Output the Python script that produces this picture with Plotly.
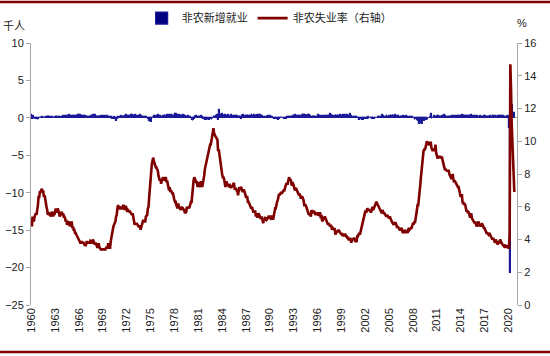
import pandas as pd
import plotly.graph_objects as go

# US unemployment rate, monthly (%), Jan 1960 - Oct 2020
unemp = [
    5.2, 4.8, 5.4, 5.2, 5.1, 5.4, 5.5, 5.6, 5.5, 6.1, 6.1, 6.6,
    6.6, 6.9, 6.9, 7.0, 7.1, 6.9, 7.0, 6.6, 6.7, 6.5, 6.1, 6.0,
    5.8, 5.5, 5.6, 5.6, 5.5, 5.5, 5.4, 5.7, 5.6, 5.4, 5.7, 5.5,
    5.7, 5.9, 5.7, 5.7, 5.9, 5.6, 5.6, 5.4, 5.5, 5.5, 5.7, 5.5,
    5.6, 5.4, 5.4, 5.3, 5.1, 5.2, 4.9, 5.0, 5.1, 5.1, 4.8, 5.0,
    4.9, 5.1, 4.7, 4.8, 4.6, 4.6, 4.4, 4.4, 4.3, 4.2, 4.1, 4.0,
    4.0, 3.8, 3.8, 3.8, 3.9, 3.8, 3.8, 3.8, 3.7, 3.7, 3.6, 3.8,
    3.9, 3.8, 3.8, 3.8, 3.8, 3.9, 3.8, 3.8, 3.8, 4.0, 3.9, 3.8,
    3.7, 3.8, 3.7, 3.5, 3.5, 3.7, 3.7, 3.5, 3.4, 3.4, 3.4, 3.4,
    3.4, 3.4, 3.4, 3.4, 3.4, 3.5, 3.5, 3.5, 3.7, 3.7, 3.5, 3.5,
    3.9, 4.2, 4.4, 4.6, 4.8, 4.9, 5.0, 5.1, 5.4, 5.5, 5.9, 6.1,
    5.9, 5.9, 6.0, 5.9, 5.9, 5.9, 6.0, 6.1, 6.0, 5.8, 6.0, 6.0,
    5.8, 5.7, 5.8, 5.7, 5.7, 5.7, 5.6, 5.6, 5.5, 5.6, 5.3, 5.2,
    4.9, 5.0, 4.9, 5.0, 4.9, 4.9, 4.8, 4.8, 4.8, 4.6, 4.8, 4.9,
    5.1, 5.2, 5.1, 5.1, 5.1, 5.4, 5.5, 5.5, 5.9, 6.0, 6.6, 7.2,
    8.1, 8.1, 8.6, 8.8, 9.0, 8.8, 8.6, 8.4, 8.4, 8.4, 8.3, 8.2,
    7.9, 7.7, 7.6, 7.7, 7.4, 7.6, 7.8, 7.8, 7.6, 7.7, 7.8, 7.8,
    7.5, 7.6, 7.4, 7.2, 7.0, 7.2, 6.9, 7.0, 6.8, 6.8, 6.8, 6.4,
    6.4, 6.3, 6.3, 6.1, 6.0, 5.9, 6.2, 5.9, 6.0, 5.8, 5.9, 6.0,
    5.9, 5.9, 5.8, 5.8, 5.6, 5.7, 5.7, 6.0, 5.9, 6.0, 5.9, 6.0,
    6.3, 6.3, 6.3, 6.9, 7.5, 7.6, 7.8, 7.7, 7.5, 7.5, 7.5, 7.2,
    7.5, 7.4, 7.4, 7.2, 7.5, 7.5, 7.2, 7.4, 7.6, 7.9, 8.3, 8.5,
    8.6, 8.9, 9.0, 9.3, 9.4, 9.6, 9.8, 9.8, 10.1, 10.4, 10.8, 10.8,
    10.4, 10.4, 10.3, 10.2, 10.1, 10.1, 9.4, 9.5, 9.2, 8.8, 8.5, 8.3,
    8.0, 7.8, 7.8, 7.7, 7.4, 7.2, 7.5, 7.5, 7.3, 7.4, 7.2, 7.3,
    7.3, 7.2, 7.2, 7.3, 7.2, 7.4, 7.4, 7.1, 7.1, 7.1, 7.0, 7.0,
    6.7, 7.2, 7.2, 7.1, 7.2, 7.2, 7.0, 6.9, 7.0, 7.0, 6.9, 6.6,
    6.6, 6.6, 6.6, 6.3, 6.3, 6.2, 6.1, 6.0, 5.9, 6.0, 5.8, 5.7,
    5.7, 5.7, 5.7, 5.4, 5.6, 5.4, 5.4, 5.6, 5.4, 5.4, 5.3, 5.3,
    5.4, 5.2, 5.0, 5.2, 5.2, 5.3, 5.2, 5.2, 5.3, 5.3, 5.4, 5.4,
    5.4, 5.3, 5.2, 5.4, 5.4, 5.2, 5.5, 5.7, 5.9, 5.9, 6.2, 6.3,
    6.4, 6.6, 6.8, 6.7, 6.9, 6.9, 6.8, 6.9, 6.9, 7.0, 7.0, 7.3,
    7.3, 7.4, 7.4, 7.4, 7.6, 7.8, 7.7, 7.6, 7.6, 7.3, 7.4, 7.4,
    7.3, 7.1, 7.0, 7.1, 7.1, 7.0, 6.9, 6.8, 6.7, 6.8, 6.6, 6.5,
    6.6, 6.6, 6.5, 6.4, 6.1, 6.1, 6.1, 6.0, 5.9, 5.8, 5.6, 5.5,
    5.6, 5.4, 5.4, 5.8, 5.6, 5.6, 5.7, 5.7, 5.6, 5.5, 5.6, 5.6,
    5.6, 5.5, 5.5, 5.6, 5.6, 5.3, 5.5, 5.1, 5.2, 5.2, 5.4, 5.4,
    5.3, 5.2, 5.2, 5.1, 4.9, 5.0, 4.9, 4.8, 4.9, 4.7, 4.6, 4.7,
    4.6, 4.6, 4.7, 4.3, 4.4, 4.5, 4.5, 4.5, 4.6, 4.5, 4.4, 4.4,
    4.3, 4.4, 4.2, 4.3, 4.2, 4.3, 4.3, 4.2, 4.2, 4.1, 4.1, 4.0,
    4.0, 4.1, 4.0, 3.8, 4.0, 4.0, 4.0, 4.1, 3.9, 3.9, 3.9, 3.9,
    4.2, 4.2, 4.3, 4.4, 4.3, 4.5, 4.6, 4.9, 5.0, 5.3, 5.5, 5.7,
    5.7, 5.7, 5.7, 5.9, 5.8, 5.8, 5.8, 5.7, 5.7, 5.7, 5.9, 6.0,
    5.8, 5.9, 5.9, 6.0, 6.1, 6.3, 6.2, 6.1, 6.1, 6.0, 5.8, 5.7,
    5.7, 5.6, 5.8, 5.6, 5.6, 5.6, 5.5, 5.4, 5.4, 5.5, 5.4, 5.4,
    5.3, 5.4, 5.2, 5.2, 5.1, 5.0, 5.0, 4.9, 5.0, 5.0, 5.0, 4.9,
    4.7, 4.8, 4.7, 4.7, 4.6, 4.6, 4.7, 4.7, 4.5, 4.4, 4.5, 4.4,
    4.6, 4.5, 4.4, 4.5, 4.4, 4.6, 4.7, 4.6, 4.7, 4.7, 4.7, 5.0,
    5.0, 4.9, 5.1, 5.0, 5.4, 5.6, 5.8, 6.1, 6.1, 6.5, 6.8, 7.3,
    7.8, 8.3, 8.7, 9.0, 9.4, 9.5, 9.5, 9.6, 9.8, 10.0, 9.9, 9.9,
    9.8, 9.8, 9.9, 9.9, 9.6, 9.4, 9.4, 9.5, 9.5, 9.4, 9.8, 9.3,
    9.1, 9.0, 9.0, 9.1, 9.0, 9.1, 9.0, 9.0, 9.0, 8.8, 8.6, 8.5,
    8.3, 8.3, 8.2, 8.2, 8.2, 8.2, 8.2, 8.0, 7.8, 7.8, 7.7, 7.9,
    8.0, 7.7, 7.5, 7.6, 7.5, 7.5, 7.3, 7.2, 7.2, 7.2, 6.9, 6.7,
    6.6, 6.7, 6.7, 6.2, 6.3, 6.1, 6.2, 6.1, 5.9, 5.7, 5.8, 5.6,
    5.7, 5.5, 5.4, 5.4, 5.6, 5.3, 5.2, 5.1, 5.0, 5.0, 5.1, 5.0,
    4.8, 4.9, 5.0, 5.1, 4.8, 4.9, 4.8, 4.9, 5.0, 4.9, 4.7, 4.7,
    4.7, 4.6, 4.4, 4.4, 4.4, 4.3, 4.3, 4.4, 4.3, 4.2, 4.2, 4.1,
    4.0, 4.1, 4.0, 4.0, 3.8, 4.0, 3.8, 3.8, 3.7, 3.8, 3.8, 3.9,
    4.0, 3.8, 3.8, 3.7, 3.6, 3.6, 3.7, 3.6, 3.5, 3.6, 3.6, 3.6,
    3.5, 3.5, 4.4, 14.7, 13.3, 11.1, 10.2, 8.4, 7.9, 6.9,
]

# Nonfarm payroll monthly change (left axis units), Jan 1960 - Oct 2020
payroll = [
    0.35, 0.09, -0.20, 0.30, -0.20, -0.08, -0.12, 0.02, -0.10, -0.08, -0.25, -0.17,
    -0.05, -0.08, 0.00, 0.05, 0.12, 0.15, 0.10, 0.17, 0.00, 0.14, 0.15, 0.13,
    0.00, 0.24, 0.10, 0.28, 0.06, 0.03, 0.09, 0.10, 0.08, 0.04, 0.02, -0.02,
    0.10, 0.12, 0.12, 0.26, 0.03, 0.12, 0.16, 0.10, 0.18, 0.17, -0.02, 0.16,
    0.10, 0.23, 0.10, 0.04, 0.22, 0.12, 0.20, 0.20, 0.23, 0.00, 0.37, 0.18,
    0.20, 0.25, 0.22, 0.26, 0.23, 0.22, 0.30, 0.25, 0.22, 0.28, 0.26, 0.36,
    0.25, 0.32, 0.42, 0.24, 0.30, 0.30, 0.21, 0.25, 0.19, 0.24, 0.22, 0.16,
    0.20, 0.07, 0.10, 0.03, 0.15, 0.14, 0.25, 0.20, 0.10, 0.16, 0.42, 0.24,
    -0.05, 0.38, 0.14, 0.27, 0.11, 0.22, 0.23, 0.17, 0.20, 0.26, 0.27, 0.25,
    0.28, 0.24, 0.24, 0.18, 0.28, 0.27, 0.17, 0.28, -0.02, 0.16, 0.06, 0.09,
    0.08, 0.12, 0.13, -0.15, -0.16, -0.10, 0.07, -0.14, 0.02, -0.41, -0.09, 0.15,
    0.06, -0.06, 0.08, 0.16, 0.22, -0.04, 0.12, 0.08, 0.21, 0.11, 0.22, 0.26,
    0.32, 0.25, 0.30, 0.23, 0.29, 0.20, 0.07, 0.38, 0.20, 0.37, 0.26, 0.27,
    0.20, 0.43, 0.33, 0.22, 0.23, 0.24, 0.17, 0.27, 0.14, 0.34, 0.28, 0.14,
    0.10, 0.12, -0.03, 0.16, 0.11, 0.05, 0.05, -0.04, -0.03, -0.09, -0.38, -0.60,
    -0.43, -0.57, -0.37, -0.07, 0.15, -0.07, 0.28, 0.30, 0.12, 0.29, 0.16, 0.31,
    0.44, 0.25, 0.25, 0.22, 0.06, 0.09, 0.17, 0.14, 0.26, 0.03, 0.32, 0.29,
    0.18, 0.26, 0.38, 0.29, 0.36, 0.37, 0.28, 0.24, 0.44, 0.28, 0.37, 0.30,
    0.19, 0.32, 0.47, 0.51, 0.38, 0.41, 0.24, 0.25, 0.34, 0.31, 0.44, 0.27,
    0.25, 0.32, 0.34, -0.05, 0.40, 0.24, 0.17, 0.12, 0.09, 0.22, 0.05, 0.17,
    0.13, 0.09, 0.04, -0.22, -0.44, -0.31, -0.21, 0.26, 0.11, 0.29, 0.25, 0.17,
    0.10, 0.08, 0.10, 0.07, 0.01, 0.20, 0.11, 0.00, -0.09, -0.10, -0.21, -0.28,
    -0.33, -0.04, -0.13, -0.28, -0.05, -0.24, -0.34, -0.16, -0.18, -0.27, -0.12, -0.01,
    0.22, -0.08, 0.17, 0.28, 0.28, 0.38, 0.42, -0.31, 1.11, 0.27, 0.35, 0.36,
    0.45, 0.48, 0.27, 0.36, 0.31, 0.38, 0.31, 0.24, 0.31, 0.29, 0.35, 0.13,
    0.27, 0.13, 0.35, 0.20, 0.27, 0.15, 0.19, 0.19, 0.20, 0.19, 0.21, 0.26,
    0.13, 0.12, 0.07, 0.19, 0.13, -0.09, 0.32, 0.11, 0.35, 0.19, 0.18, 0.21,
    0.17, 0.23, 0.25, 0.34, 0.22, 0.17, 0.35, 0.17, 0.23, 0.49, 0.24, 0.29,
    0.09, 0.44, 0.20, 0.28, 0.21, 0.36, 0.23, 0.12, 0.34, 0.26, 0.34, 0.29,
    0.26, 0.26, 0.20, 0.16, 0.11, 0.11, 0.04, 0.05, 0.26, 0.11, 0.27, 0.09,
    0.24, 0.25, 0.20, 0.07, 0.16, 0.04, -0.03, -0.20, -0.08, -0.16, -0.15, -0.06,
    -0.14, -0.26, -0.22, -0.16, -0.07, 0.08, -0.07, 0.04, 0.02, -0.03, -0.13, -0.02,
    0.04, -0.10, 0.05, 0.17, 0.13, 0.06, 0.05, 0.12, 0.04, 0.17, 0.14, 0.23,
    0.30, 0.25, -0.04, 0.32, 0.27, 0.18, 0.29, 0.19, 0.24, 0.27, 0.30, 0.28,
    0.27, 0.22, 0.45, 0.35, 0.33, 0.31, 0.36, 0.29, 0.35, 0.21, 0.42, 0.29,
    0.32, 0.22, 0.22, 0.16, -0.02, 0.24, 0.13, 0.26, 0.23, 0.14, 0.14, 0.13,
    -0.03, 0.44, 0.28, 0.15, 0.33, 0.30, 0.21, 0.16, 0.22, 0.27, 0.26, 0.17,
    0.23, 0.31, 0.31, 0.29, 0.25, 0.26, 0.28, 0.04, 0.51, 0.33, 0.30, 0.30,
    0.27, 0.19, 0.15, 0.28, 0.40, 0.21, 0.13, 0.33, 0.19, 0.22, 0.29, 0.34,
    0.14, 0.41, 0.10, 0.36, 0.19, 0.26, 0.34, 0.16, 0.22, 0.39, 0.27, 0.29,
    0.25, 0.12, 0.47, 0.29, 0.23, -0.05, 0.17, 0.00, 0.12, 0.00, 0.20, 0.13,
    -0.02, 0.06, -0.03, -0.28, -0.04, -0.13, -0.01, -0.16, -0.24, -0.33, -0.29, -0.17,
    -0.13, -0.15, -0.02, -0.09, -0.01, 0.05, -0.10, -0.01, -0.06, 0.12, 0.01, -0.16,
    0.09, -0.16, -0.21, -0.05, -0.01, 0.00, 0.04, -0.04, 0.11, 0.20, 0.02, 0.12,
    0.16, 0.04, 0.33, 0.25, 0.31, 0.08, 0.04, 0.12, 0.16, 0.35, 0.06, 0.13,
    0.13, 0.24, 0.14, 0.36, 0.17, 0.24, 0.37, 0.19, 0.07, 0.08, 0.34, 0.16,
    0.28, 0.31, 0.28, 0.18, 0.02, 0.08, 0.21, 0.18, 0.16, 0.00, 0.21, 0.17,
    0.24, 0.09, 0.19, 0.08, 0.14, 0.08, -0.03, -0.02, 0.09, 0.08, 0.11, 0.10,
    0.01, -0.08, -0.05, -0.24, -0.19, -0.16, -0.21, -0.27, -0.46, -0.48, -0.80, -0.66,
    -0.78, -0.70, -0.80, -0.69, -0.36, -0.47, -0.27, -0.21, -0.24, -0.20, 0.01, -0.27,
    -0.03, -0.07, 0.16, 0.25, 0.52, -0.13, -0.07, -0.05, -0.05, 0.24, 0.14, 0.10,
    0.03, 0.22, 0.23, 0.31, 0.10, 0.23, 0.07, 0.11, 0.23, 0.20, 0.14, 0.20,
    0.36, 0.26, 0.23, 0.09, 0.10, 0.07, 0.16, 0.15, 0.20, 0.14, 0.13, 0.24,
    0.19, 0.28, 0.14, 0.18, 0.22, 0.18, 0.14, 0.26, 0.19, 0.21, 0.26, 0.05,
    0.19, 0.17, 0.27, 0.33, 0.23, 0.32, 0.24, 0.21, 0.27, 0.22, 0.31, 0.27,
    0.19, 0.27, 0.08, 0.25, 0.33, 0.21, 0.28, 0.15, 0.14, 0.31, 0.25, 0.25,
    0.12, 0.23, 0.20, 0.15, 0.04, 0.29, 0.29, 0.16, 0.25, 0.12, 0.17, 0.16,
    0.26, 0.20, 0.07, 0.18, 0.14, 0.23, 0.17, 0.20, 0.02, 0.26, 0.23, 0.16,
    0.18, 0.32, 0.19, 0.16, 0.26, 0.24, 0.18, 0.24, 0.11, 0.25, 0.18, 0.23,
    0.30, 0.06, 0.19, 0.25, 0.08, 0.19, 0.16, 0.13, 0.18, 0.13, 0.26, 0.15,
    0.21, 0.25, -1.37, -20.68, 2.73, 4.79, 1.76, 1.49, 0.66, 0.64,
]

tick_years = list(range(1960, 2021, 3))
tick_labels = [str(y) for y in tick_years]
minor_tick_years = list(range(1960, 2021, 6))

months = pd.date_range("1960-01-01", periods=len(unemp), freq="MS")

BLUE = "#000080"
RED = "#800000"
AXIS = "#A6A6A6"
FONT = "Liberation Sans, Arial, sans-serif"
CJK = "Noto Sans CJK SC"
XRANGE = ["1959-12-20", "2021-02-01"]

fig = go.Figure()
fig.add_trace(go.Bar(
    x=months, y=payroll, name="非农新增就业",
    marker=dict(color=BLUE, line=dict(color="#1a1a99", width=1.2)),
    yaxis="y",
))
fig.add_trace(go.Scatter(
    x=months, y=unemp, name="非农失业率（右轴）", mode="lines",
    line=dict(color=RED, width=2.6),
    yaxis="y2",
))

fig.update_layout(
    width=550, height=356,
    margin=dict(l=31, r=33, t=43, b=51, autoexpand=False),
    paper_bgcolor="white", plot_bgcolor="white",
    bargap=0,
    showlegend=True,
    hovermode=False,
    legend=dict(
        orientation="h", x=0.49, xanchor="center", y=1.095, yanchor="middle",
        font=dict(family=CJK, size=11, color="#222"),
        itemwidth=30, tracegroupgap=0, bgcolor="rgba(0,0,0,0)",
    ),
    xaxis=dict(
        type="date",
        range=XRANGE,
        tickvals=[f"{y}-01-01" for y in tick_years],
        ticktext=tick_labels,
        tickangle=-90,
        showgrid=False, showline=False, zeroline=False,
        ticks="", tickfont=dict(family=FONT, size=11, color="#222"),
        automargin=False,
    ),
    xaxis2=dict(
        type="date", overlaying="x", anchor="free", position=25 / 35,
        range=XRANGE,
        tickvals=[f"{y}-01-01" for y in minor_tick_years],
        showticklabels=False, ticks="outside", ticklen=3, tickcolor=AXIS,
        showgrid=False, showline=False, zeroline=False, side="bottom",
        automargin=False,
    ),
    yaxis=dict(
        range=[-25, 10], dtick=5, tick0=0,
        showgrid=False, zeroline=True, zerolinecolor=AXIS, zerolinewidth=1,
        showline=True, linecolor=AXIS, linewidth=1,
        ticks="outside", ticklen=4, tickcolor=AXIS,
        tickfont=dict(family=FONT, size=11, color="#222"),
        automargin=False,
    ),
    yaxis2=dict(
        range=[0, 16], dtick=2, overlaying="y", side="right",
        showgrid=False, zeroline=False,
        showline=True, linecolor=AXIS, linewidth=1,
        ticks="outside", ticklen=4, tickcolor=AXIS,
        tickfont=dict(family=FONT, size=11, color="#222"),
        automargin=False,
    ),
    annotations=[
        dict(text="千人", xref="paper", yref="paper", x=-0.035, y=1.07,
             xanchor="center", yanchor="middle", showarrow=False,
             font=dict(family=CJK, size=11, color="#222")),
        dict(text="%", xref="paper", yref="paper", x=1.01, y=1.075,
             xanchor="center", yanchor="middle", showarrow=False,
             font=dict(family=FONT, size=11, color="#222")),
    ],
    shapes=[
        dict(type="line", xref="paper", yref="paper", x0=-0.07, x1=1.07,
             y0=1.1565, y1=1.1565, line=dict(color=RED, width=2.5)),
        dict(type="line", xref="paper", yref="paper", x0=-0.07, x1=1.07,
             y0=-0.179, y1=-0.179, line=dict(color=RED, width=2.5)),
    ],
)

fig.write_html(
    "out.html",
    config={"displayModeBar": False},
    post_script="document.body.style.margin='0px';",
)
